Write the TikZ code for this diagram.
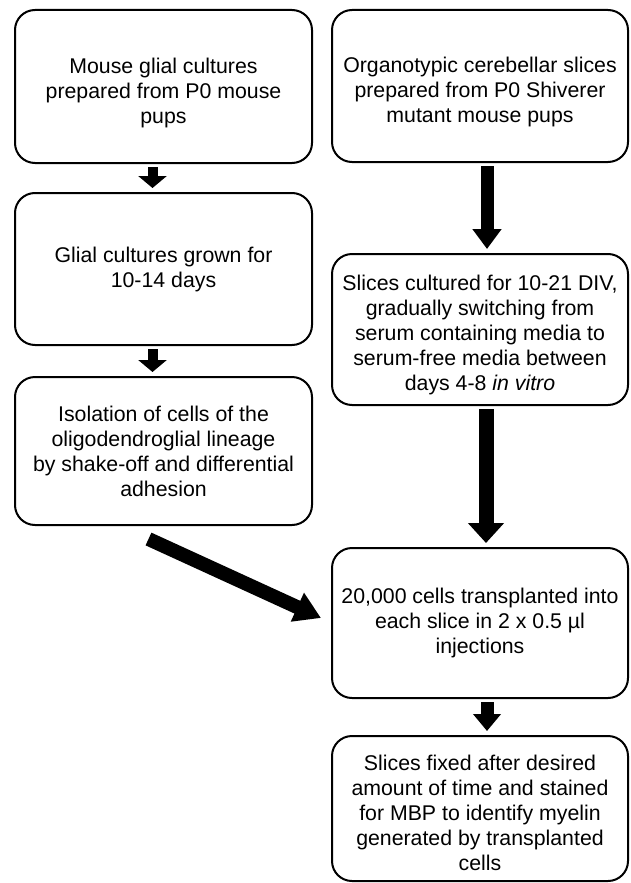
\documentclass[tikz,border=0pt]{standalone}
\usepackage{fontspec}
\setmainfont{Liberation Sans}
\usetikzlibrary{arrows.meta,calc}
\newcommand{\dn}[1]{\rule{0pt}{#1pt}}
\begin{document}
\begin{tikzpicture}[x=1pt,y=-1pt,
  box/.style={draw, line width=2pt, rounded corners=20pt, align=center,
    font=\fontsize{21.3}{25}\selectfont, inner sep=0pt},
  lbox/.style={box, minimum width=297pt},
  rbox/.style={box, minimum width=296pt},
  small/.style={line width=10pt, -{Triangle[width=28pt,length=12pt]}, shorten <=3pt, shorten >=4pt},
  big/.style={shorten <=3pt, shorten >=4pt}]
\useasboundingbox (0,0) rectangle (630,883);
\node[lbox, minimum height=153pt] (b1) at (163.5,86.5) {\dn{29}Mouse glial cultures\\prepared from P0 mouse\\pups};
\node[lbox, minimum height=152pt] (b2) at (163.5,269) {Glial cultures grown for\\10-14 days};
\node[lbox, minimum height=148pt] (b3) at (163.5,451) {Isolation of cells of the\\oligodendroglial lineage\\by shake-off and differential\\adhesion};
\node[rbox, minimum height=152pt] (ba) at (480,86) {\dn{27}Organotypic cerebellar slices\\prepared from P0 Shiverer\\mutant mouse pups};
\node[rbox, minimum height=151pt] (bb) at (480,329.5) {\dn{27}Slices cultured for 10-21 DIV,\\gradually switching from\\serum containing media to\\serum-free media between\\days 4-8 \textit{in vitro}};
\node[rbox, minimum height=150pt] (bc) at (480,623) {20,000 cells transplanted into\\each slice in 2 x 0.5 µl\\injections};
\node[rbox, minimum height=145pt] (bd) at (480,808.5) {\dn{25}Slices fixed after desired\\amount of time and stained\\for MBP to identify myelin\\generated by transplanted\\cells};
\draw[small] ($(b1.south)+(-11,0)$) -- ($(b2.north)+(-11,0)$);
\draw[small] ($(b2.south)+(-11,0)$) -- ($(b3.north)+(-11,0)$);
\draw[big, line width=13pt, -{Triangle[width=28pt,length=20pt]}] ($(ba.south)+(7,0)$) -- ($(bb.north)+(7,0)$);
\draw[big, line width=15pt, -{Triangle[width=35pt,length=20pt]}] ($(bb.south)+(6,0)$) -- ($(bc.north)+(6,0)$);
\draw[big, line width=13pt, -{Triangle[width=27pt,length=17pt]}] ($(bc.south)+(7,0)$) -- ($(bd.north)+(7,0)$);
\coordinate (dstart) at ($(b3.south)+(-15,13)$);
\coordinate (dend) at ($(bc.west)+(-10,-5)$);
\draw[line width=14pt, -{Triangle[width=30pt,length=26pt]}] (dstart) -- (dend);
\end{tikzpicture}
\end{document}
